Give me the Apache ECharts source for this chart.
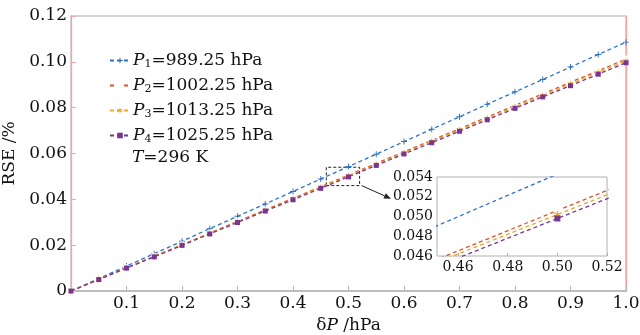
<!DOCTYPE html>
<html>
<head>
<meta charset="utf-8">
<script src="https://cdn.jsdelivr.net/npm/echarts@6/dist/echarts.min.js"></script>
<style>
  html, body { margin: 0; padding: 0; background: #fff; }
  #chart { width: 640px; height: 335px; }
</style>
</head>
<body>
<div id="chart"></div>
<script>
// data
let dP = [0, 0.05, 0.1, 0.15, 0.2, 0.25, 0.3, 0.35, 0.4, 0.45, 0.5,
          0.55, 0.6, 0.65, 0.7, 0.75, 0.8, 0.85, 0.9, 0.95, 1.0];
let rse1 = [0, 0.0054, 0.0109, 0.0163, 0.0217, 0.0272, 0.0326, 0.0380, 0.0434, 0.0489, 0.0543,
            0.0597, 0.0652, 0.0706, 0.0760, 0.0815, 0.0869, 0.0923, 0.0977, 0.1032, 0.1086];
let rse2 = [0, 0.0051, 0.0101, 0.0152, 0.0202, 0.0253, 0.0304, 0.0354, 0.0405, 0.0455, 0.0506,
            0.0557, 0.0607, 0.0658, 0.0708, 0.0759, 0.0810, 0.0860, 0.0911, 0.0961, 0.1012];
let rse3 = [0, 0.0050, 0.0100, 0.0151, 0.0201, 0.0251, 0.0301, 0.0351, 0.0402, 0.0452, 0.0502,
            0.0552, 0.0602, 0.0653, 0.0703, 0.0753, 0.0803, 0.0853, 0.0904, 0.0954, 0.1004];
let rse4 = [0, 0.0050, 0.0100, 0.0149, 0.0199, 0.0249, 0.0299, 0.0349, 0.0398, 0.0448, 0.0498,
            0.0548, 0.0598, 0.0647, 0.0697, 0.0747, 0.0797, 0.0847, 0.0896, 0.0946, 0.0996];

let subs = ['1', '2', '3', '4'];
let pressures = ['989.25', '1002.25', '1013.25', '1025.25'];
let colors = ['#2f72c4', '#d9552a', '#eaa82a', '#7a3592'];

// zoomed window
let zoomX = [0.4515, 0.52];
let zoomY = [0.046, 0.054];
let boxX = [0.46, 0.52];
let insetTicks = [0.46, 0.48, 0.50, 0.52];

let chart = echarts.init(document.getElementById('chart'));
let font = 'DejaVu Serif';

let plus = 'path://M4.2,0H5.8V4.2H10V5.8H5.8V10H4.2V5.8H0V4.2H4.2Z';
let star = 'path://M4.3,0H5.7V10H4.3Z M1.05,1.9L9.65,6.9L8.95,8.1L0.35,3.1Z M0.35,6.9L8.95,1.9L9.65,3.1L1.05,8.1Z';
let symbols = [plus, 'emptyCircle', star, 'rect'];
let sizes = [6, 5, 6, 5];
let allData = [rse1, rse2, rse3, rse4];

function pairs(arr) {
    let out = [];
    for (let i = 0; i < dP.length; i++) out.push([dP[i], arr[i]]);
    return out;
}

function seriesName(i) {
    return 'P' + subs[i];
}

let series = [];
for (let i = 0; i < 4; i++) {
    let s = {
        name: seriesName(i),
        type: 'line',
        xAxisIndex: 0,
        yAxisIndex: 0,
        data: pairs(allData[i]),
        symbol: symbols[i],
        symbolSize: sizes[i],
        color: colors[i],
        lineStyle: { width: 1.3, type: [4, 3], color: colors[i] },
        itemStyle: { color: i == 1 ? '#fff' : colors[i], borderColor: colors[i], borderWidth: i == 1 ? 1.2 : 0 },
        z: 3 + i
    };
    if (i == 0) {
        s.markArea = {
            silent: true,
            itemStyle: { color: 'transparent', borderColor: '#222', borderWidth: 1, borderType: [3, 2] },
            data: [[{ coord: [boxX[0], zoomY[0]] }, { coord: [boxX[1], zoomY[1]] }]]
        };
    }
    series.push(s);
}
// inset copies
for (let i = 0; i < 4; i++) {
    series.push({
        name: seriesName(i) + '_inset',
        type: 'line',
        xAxisIndex: 2,
        yAxisIndex: 2,
        data: pairs(allData[i]),
        symbol: symbols[i],
        symbolSize: sizes[i] + 1,
        clip: true,
        lineStyle: { width: 1.3, type: [4, 3], color: colors[i] },
        itemStyle: { color: i == 1 ? '#fff' : colors[i], borderColor: colors[i], borderWidth: i == 1 ? 1.2 : 0 },
        z: 10 + i
    });
}

let option = {
    animation: false,
    backgroundColor: '#fff',
    textStyle: { fontFamily: font },
    grid: [
        { left: 71, right: 14, top: 16, bottom: 44, outerBoundsMode: 'none', show: true, borderColor: '#c8c8c8', borderWidth: 1.5 },
        { left: 71, right: 14, top: 16, bottom: 44, outerBoundsMode: 'none' },
        { left: 437, right: 33, top: 177, bottom: 79, outerBoundsMode: 'none', show: true, backgroundColor: '#fff', borderColor: '#b0b0b0', borderWidth: 1, z: 8 }
    ],
    xAxis: [
        {
            type: 'value', gridIndex: 0, min: 0, max: 1, interval: 0.1,
            name: '{d|δ}{i|P} /hPa', nameLocation: 'middle', nameGap: 20,
            nameTextStyle: { rich: {
                d: { fontFamily: font, fontSize: 17, color: '#111' },
                i: { fontFamily: font, fontSize: 17, fontStyle: 'italic', color: '#111' }
            }, fontSize: 17, color: '#111' },
            axisLine: { lineStyle: { color: '#b5b5b5', width: 1.5 } },
            axisTick: { inside: true, length: 5, lineStyle: { color: '#b5b5b5' } },
            splitLine: { show: false },
            axisLabel: {
                fontFamily: font, fontSize: 17, color: '#111', margin: 4,
                formatter: v => v == 0 ? '' : v.toFixed(1)
            }
        },
        { type: 'value', gridIndex: 1, min: 0, max: 1, show: false },
        {
            type: 'value', gridIndex: 2, min: zoomX[0], max: zoomX[1],
            axisLine: { show: false },
            axisTick: { inside: true, length: 3, customValues: insetTicks, lineStyle: { color: '#b0b0b0' } },
            splitLine: { show: false },
            axisLabel: {
                fontFamily: font, fontSize: 14, color: '#111', margin: 4,
                customValues: insetTicks,
                formatter: v => v.toFixed(2)
            },
            z: 9
        }
    ],
    yAxis: [
        {
            type: 'value', gridIndex: 0, min: 0, max: 0.12, interval: 0.02,
            name: 'RSE /%', nameLocation: 'middle', nameGap: 46, nameRotate: 90,
            nameTextStyle: { fontFamily: font, fontSize: 17, color: '#111' },
            axisLine: { show: true, lineStyle: { color: '#f4a4a4', width: 1.3 } },
            axisTick: { show: true, inside: true, length: 5, lineStyle: { color: '#f4a4a4' } },
            splitLine: { show: false },
            axisLabel: {
                fontFamily: font, fontSize: 17, color: '#111', margin: 4,
                formatter: v => v == 0 ? '0' : v.toFixed(2)
            }
        },
        {
            type: 'value', gridIndex: 1, min: 0, max: 0.12, position: 'right',
            axisLine: { show: true, onZero: false, lineStyle: { color: '#f4a4a4', width: 1.3 } },
            axisTick: { show: false }, axisLabel: { show: false }, splitLine: { show: false }
        },
        {
            type: 'value', gridIndex: 2, min: zoomY[0], max: zoomY[1], interval: 0.002,
            axisLine: { show: false },
            axisTick: { show: false },
            splitLine: { show: false },
            axisLabel: {
                fontFamily: font, fontSize: 14, color: '#111', margin: 4,
                formatter: v => v.toFixed(3)
            },
            z: 9
        }
    ],
    legend: {
        data: [0, 1, 2, 3].map(seriesName),
        orient: 'vertical',
        left: 104, top: 47,
        itemWidth: 20, itemHeight: 7, itemGap: 7,
        formatter: function (name) {
            let i = subs.indexOf(name.slice(1));
            return '{i|P}{s|' + subs[i] + '}{n|=' + pressures[i] + ' hPa}';
        },
        textStyle: {
            fontFamily: font, fontSize: 17, color: '#111', padding: [0, 0, 0, -2],
            rich: {
                i: { fontFamily: font, fontSize: 17, fontStyle: 'italic', color: '#111', lineHeight: 19 },
                s: { fontFamily: font, fontSize: 11, color: '#111', verticalAlign: 'bottom', lineHeight: 19 },
                n: { fontFamily: font, fontSize: 17, color: '#111', lineHeight: 19 }
            }
        }
    },
    graphic: [
        {
            type: 'text', left: 132, top: 149, z: 20,
            style: {
                text: '{i|T}{n|=296 K}',
                rich: {
                    i: { fontFamily: font, fontSize: 17, fontStyle: 'italic', fill: '#111' },
                    n: { fontFamily: font, fontSize: 17, fill: '#111' }
                }
            }
        }
    ],
    series: series
};

chart.setOption(option);

// arrow from the zoom box to the inset
let corner = chart.convertToPixel({ gridIndex: 0 }, [boxX[1], zoomY[0]]);
let tip = chart.convertToPixel({ gridIndex: 2 }, [zoomX[0], 0.0518]);
let tx = tip[0] - 46, ty = tip[1];
let sx = corner[0] + 2, sy = corner[1];
let ang = Math.atan2(ty - sy, tx - sx);
let ah = 7, aw = 3;
chart.setOption({
    graphic: [
        option.graphic[0],
        {
            type: 'line', z: 20,
            shape: { x1: sx, y1: sy, x2: tx - Math.cos(ang) * ah, y2: ty - Math.sin(ang) * ah },
            style: { stroke: '#222', lineWidth: 1 }
        },
        {
            type: 'polygon', z: 20,
            shape: { points: [
                [tx, ty],
                [tx - Math.cos(ang) * ah - Math.sin(ang) * aw, ty - Math.sin(ang) * ah + Math.cos(ang) * aw],
                [tx - Math.cos(ang) * ah + Math.sin(ang) * aw, ty - Math.sin(ang) * ah - Math.cos(ang) * aw]
            ] },
            style: { fill: '#222' }
        }
    ]
});
</script>
</body>
</html>
